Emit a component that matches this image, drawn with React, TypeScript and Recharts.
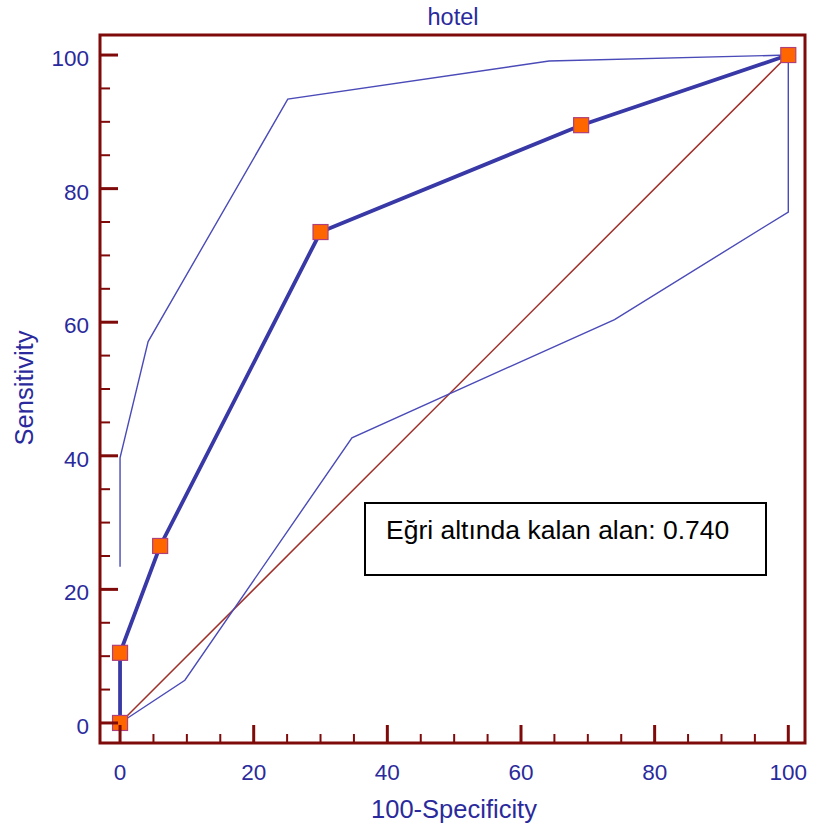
import { LineChart, Line, XAxis, YAxis, ReferenceArea } from 'recharts';

// ROC curve (thick line with square markers)
const rocX = [0, 0, 6, 30, 69, 100];
const rocY = [0, 10.5, 26.5, 73.5, 89.5, 100];

// upper confidence bound
const upperX = [0, 0, 4.2, 25.1, 64.2, 100];
const upperY = [23.4, 39.7, 57.1, 93.4, 99.1, 100];

// lower confidence bound
const lowerX = [0, 9.7, 34.7, 74, 100, 100];
const lowerY = [0, 6.4, 42.7, 60.4, 76.5, 100];

// reference diagonal
const diagX = [0, 100];
const diagY = [0, 100];

const axisTicks = [0, 5, 10, 15, 20, 25, 30, 35, 40, 45, 50, 55, 60, 65, 70, 75, 80, 85, 90, 95, 100];
const labelledTicks = [0, 20, 40, 60, 80, 100];

const titleText = "hotel";
const xLabel = "100-Specificity";
const yLabel = "Sensitivity";
const aucText = "Eğri altında kalan alan: 0.740";

const FONT = "'Liberation Sans', Arial, sans-serif";
const FRAME = "#7f0a0a";
const TEXT_BLUE = "#2a2a9c";

function toPoints(xs: number[], ys: number[]) {
    return xs.map((x, i) => ({ x: x, y: ys[i] }));
}

const rocData = toPoints(rocX, rocY);
const upperData = toPoints(upperX, upperY);
const lowerData = toPoints(lowerX, lowerY);
const diagData = toPoints(diagX, diagY);

// ticks point inward from the bottom edge, labels sit below
function BottomTick(props: any) {
    const { x, y, payload } = props;
    const major = labelledTicks.includes(payload.value);
    return (
        <g>
            <line x1={x} x2={x} y1={y} y2={y - (major ? 18 : 9)} stroke={FRAME} strokeWidth={major ? 3 : 2} />
            {major && (
                <text x={x} y={y + 37} textAnchor="middle" fontSize={22.5} fontFamily={FONT} fill={TEXT_BLUE}>
                    {payload.value}
                </text>
            )}
        </g>
    );
}

function LeftTick(props: any) {
    const { x, y, payload } = props;
    const major = labelledTicks.includes(payload.value);
    return (
        <g>
            <line x1={x} x2={x + (major ? 18 : 10)} y1={y} y2={y} stroke={FRAME} strokeWidth={major ? 3 : 2} />
            {major && (
                <text x={x - 11} y={y + 11} textAnchor="end" fontSize={22.5} fontFamily={FONT} fill={TEXT_BLUE}>
                    {payload.value}
                </text>
            )}
        </g>
    );
}

function SquareDot(props: any) {
    const { cx, cy, index } = props;
    return <rect key={"sq" + index} x={cx - 7.5} y={cy - 7.5} width={15} height={15} fill="#ff6600" stroke="#b0407a" strokeWidth={1.2} />;
}

export default function App() {
    return (
        <div style={{ position: "absolute", left: 0, top: 0, width: 813, height: 834, background: "#fff" }}>
            <LineChart width={813} height={834} margin={{ top: 35, right: 8, bottom: 0, left: 0 }}>
                <XAxis type="number" dataKey="x" domain={[-3, 102.5]} allowDataOverflow ticks={axisTicks}
                    interval={0} height={91} tickSize={0} tickMargin={0} axisLine={false} tickLine={false} tick={<BottomTick />} />
                <YAxis type="number" dataKey="y" domain={[-3, 103]} allowDataOverflow ticks={axisTicks}
                    interval={0} width={100} tickSize={0} tickMargin={0} axisLine={false} tickLine={false} tick={<LeftTick />} />
                <ReferenceArea x1={-3} x2={102.5} y1={-3} y2={103} fill="none" stroke={FRAME} strokeWidth={3} ifOverflow="visible" />
                <Line data={diagData} dataKey="y" stroke="#a0302a" strokeWidth={1.5} dot={false} isAnimationActive={false} />
                <Line data={upperData} dataKey="y" stroke="#4a4ab8" strokeWidth={1.4} dot={false} isAnimationActive={false} />
                <Line data={lowerData} dataKey="y" stroke="#4a4ab8" strokeWidth={1.4} dot={false} isAnimationActive={false} />
                <Line data={rocData} dataKey="y" stroke="#3838a6" strokeWidth={3.8} dot={SquareDot} activeDot={false} isAnimationActive={false} />
            </LineChart>
            <svg width={813} height={834} style={{ position: "absolute", left: 0, top: 0, pointerEvents: "none" }}>
                <text x={453} y={25} textAnchor="middle" fontSize={23.5} fontFamily={FONT} fill={TEXT_BLUE}>{titleText}</text>
                <text x={454} y={818} textAnchor="middle" fontSize={25.5} fontFamily={FONT} fill={TEXT_BLUE}>{xLabel}</text>
                <text transform="translate(33,388) rotate(-90)" textAnchor="middle" fontSize={25.5} fontFamily={FONT} fill={TEXT_BLUE}>{yLabel}</text>
                <rect x={365} y={503} width={401} height={72} fill="#fff" stroke="#000" strokeWidth={2} />
                <text x={386} y={539} fontSize={26.5} fontFamily={FONT} fill="#000">{aucText}</text>
            </svg>
        </div>
    );
}
